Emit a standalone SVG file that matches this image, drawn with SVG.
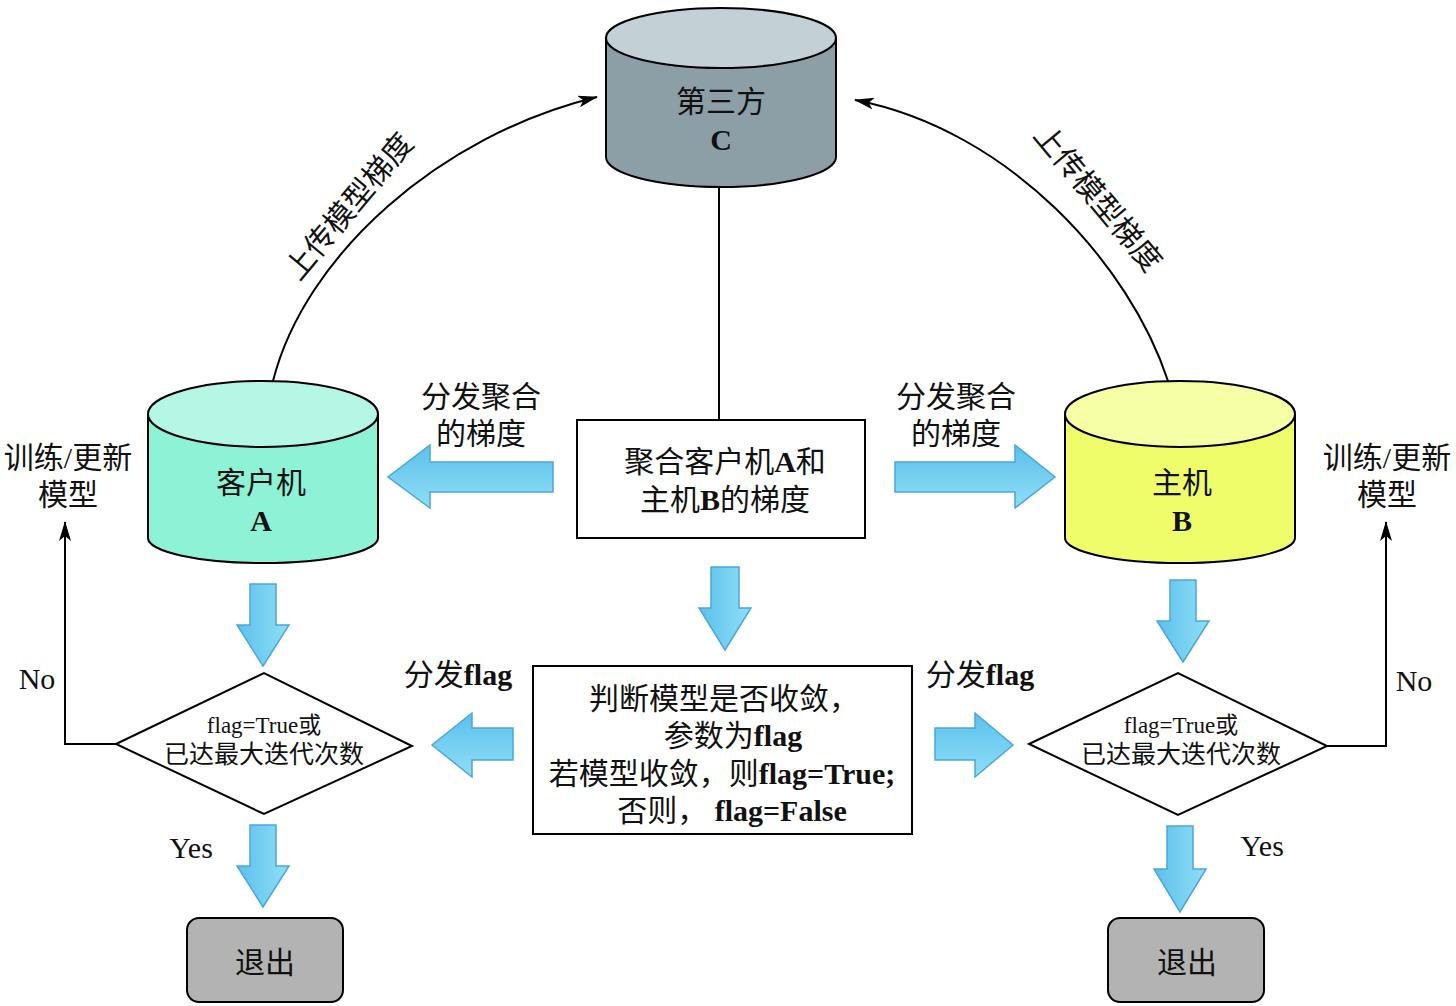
<svg xmlns="http://www.w3.org/2000/svg" width="1456" height="1006" viewBox="0 0 1456 1006">
<defs>
<linearGradient id="gh" x1="0" y1="0" x2="0" y2="1"><stop offset="0" stop-color="#5cc0ec"/><stop offset="1" stop-color="#8fdff6"/></linearGradient>
<linearGradient id="gv" x1="0" y1="0" x2="1" y2="0"><stop offset="0" stop-color="#5cc0ec"/><stop offset="1" stop-color="#8fdff6"/></linearGradient>
<marker id="ah2" viewBox="0 0 20 12" refX="19" refY="6" markerWidth="22" markerHeight="12" markerUnits="userSpaceOnUse" orient="auto"><path d="M0,0 L20,6 L0,12 L5,6 Z" fill="#000"/></marker>
</defs>
<style>
text{font-family:"Liberation Serif","Noto Sans CJK SC",serif;fill:#111;text-anchor:middle}
.t30{font-size:30px}
.t25{font-size:25px}
.t22{font-size:23px}
.b{font-weight:bold}
.ln{fill:none;stroke:#000;stroke-width:2}
.ba{fill:url(#gh);stroke:#4aa6dc;stroke-width:1.5}
.bv{fill:url(#gv);stroke:#4aa6dc;stroke-width:1.5}
.bx{fill:#fff;stroke:#000;stroke-width:2}
.cy{stroke:#000;stroke-width:2}
</style>
<rect width="1456" height="1006" fill="#fff"/>
<g id="connectors">
<line class="ln" x1="719" y1="188" x2="719" y2="420"/>
<path class="ln" d="M273,381 C305,255 440,135 597,97" marker-end="url(#ah2)"/>
<path class="ln" d="M1168,381 C1130,265 1010,130 855,100" marker-end="url(#ah2)"/>
<polyline class="ln" points="116,744 65,744 65,522" marker-end="url(#ah2)"/>
<polyline class="ln" points="1327,746 1386,746 1386,522" marker-end="url(#ah2)"/>
<path class="ba" d="M553,462 L430,462 L430,445 L388,477 L430,508 L430,492 L553,492 Z"/>
<path class="ba" d="M895,462 L1015,462 L1015,445 L1055,477 L1015,508 L1015,492 L895,492 Z"/>
<path class="ba" d="M513,728 L472,728 L472,713 L432,745 L472,777 L472,760 L513,760 Z"/>
<path class="ba" d="M935,728 L975,728 L975,713 L1013,745 L975,777 L975,760 L935,760 Z"/>
<path class="bv" d="M250,584 L276,584 L276,625 L289,625 L263,666 L237,625 L250,625 Z"/>
<path class="bv" d="M711,567 L739,567 L739,608 L751,608 L725,650 L699,608 L711,608 Z"/>
<path class="bv" d="M1170,580 L1196,580 L1196,621 L1209,621 L1183,662 L1157,621 L1170,621 Z"/>
<path class="bv" d="M250,825 L276,825 L276,866 L289,866 L263,907 L237,866 L250,866 Z"/>
<path class="bv" d="M1167,826 L1193,826 L1193,869 L1206,869 L1180,912 L1154,869 L1167,869 Z"/>
</g>
<g id="nodeC">
<path class="cy" fill="#8c9fa7" d="M606,38 L606,157 A115,30 0 0 0 836,157 L836,38 Z"/>
<ellipse class="cy" cx="721" cy="38" rx="115" ry="30" fill="#c3d0d5"/>
<text class="t30" x="721" y="112">第三方</text>
<text class="t30 b" x="721" y="150">C</text>
</g>
<g id="nodeA">
<path class="cy" fill="#8ef3d6" d="M148,414 L148,538 A115,25 0 0 0 378,538 L378,414 Z"/>
<ellipse class="cy" cx="263" cy="414" rx="115" ry="33" fill="#b3f7e4"/>
<text class="t30" x="261" y="493">客户机</text>
<text class="t30 b" x="261" y="531">A</text>
</g>
<g id="nodeB">
<path class="cy" fill="#f0fd6a" d="M1065,414 L1065,538 A115,25 0 0 0 1295,538 L1295,414 Z"/>
<ellipse class="cy" cx="1180" cy="414" rx="115" ry="33" fill="#f6fea6"/>
<text class="t30" x="1182" y="493">主机</text>
<text class="t30 b" x="1182" y="531">B</text>
</g>
<g id="aggregate">
<rect class="bx" x="577" y="420" width="288" height="118"/>
<text class="t30" x="725" y="472">聚合客户机<tspan class="b">A</tspan>和</text>
<text class="t30" x="725" y="510">主机<tspan class="b">B</tspan>的梯度</text>
</g>
<g id="judge">
<rect class="bx" x="533" y="666" width="379" height="168"/>
<text class="t30" x="724" y="709">判断模型是否收敛，</text>
<text class="t30" x="733" y="746">参数为<tspan class="b">flag</tspan></text>
<text class="t30" x="722" y="784">若模型收敛，则<tspan class="b">flag=True;</tspan></text>
<text class="t30" x="732" y="821">否则， <tspan class="b">flag=False</tspan></text>
</g>
<g id="diamondA">
<polygon class="bx" points="116,744 264,673 412,746 264,814"/>
<text class="t22" x="264" y="733">flag=True或</text>
<text class="t25" x="264" y="763">已达最大迭代次数</text>
</g>
<g id="diamondB">
<polygon class="bx" points="1029,744 1178,673 1327,746 1178,815"/>
<text class="t22" x="1181" y="733">flag=True或</text>
<text class="t25" x="1181" y="763">已达最大迭代次数</text>
</g>
<g id="exitA">
<rect x="187" y="918" width="156" height="84" rx="12" fill="#b3b3b3" stroke="#000" stroke-width="2"/>
<text class="t30" x="265" y="973">退出</text>
</g>
<g id="exitB">
<rect x="1108" y="918" width="156" height="84" rx="12" fill="#b3b3b3" stroke="#000" stroke-width="2"/>
<text class="t30" x="1187" y="973">退出</text>
</g>
<g id="labels">
<text class="t30" x="481" y="407">分发聚合</text>
<text class="t30" x="481" y="444">的梯度</text>
<text class="t30" x="956" y="407">分发聚合</text>
<text class="t30" x="956" y="444">的梯度</text>
<text class="t30" x="458" y="685">分发<tspan class="b">flag</tspan></text>
<text class="t30" x="980" y="685">分发<tspan class="b">flag</tspan></text>
<text class="t30" x="68" y="468">训练/更新</text>
<text class="t30" x="68" y="505">模型</text>
<text class="t30" x="1387" y="468">训练/更新</text>
<text class="t30" x="1387" y="505">模型</text>
<text class="t30" x="37" y="689">No</text>
<text class="t30" x="1414" y="691">No</text>
<text class="t30" x="191" y="858">Yes</text>
<text class="t30" x="1262" y="856">Yes</text>
<text class="t30" transform="translate(357,213) rotate(-50)">上传模型梯度</text>
<text class="t30" transform="translate(1090,205) rotate(50)">上传模型梯度</text>
</g>
</svg>
